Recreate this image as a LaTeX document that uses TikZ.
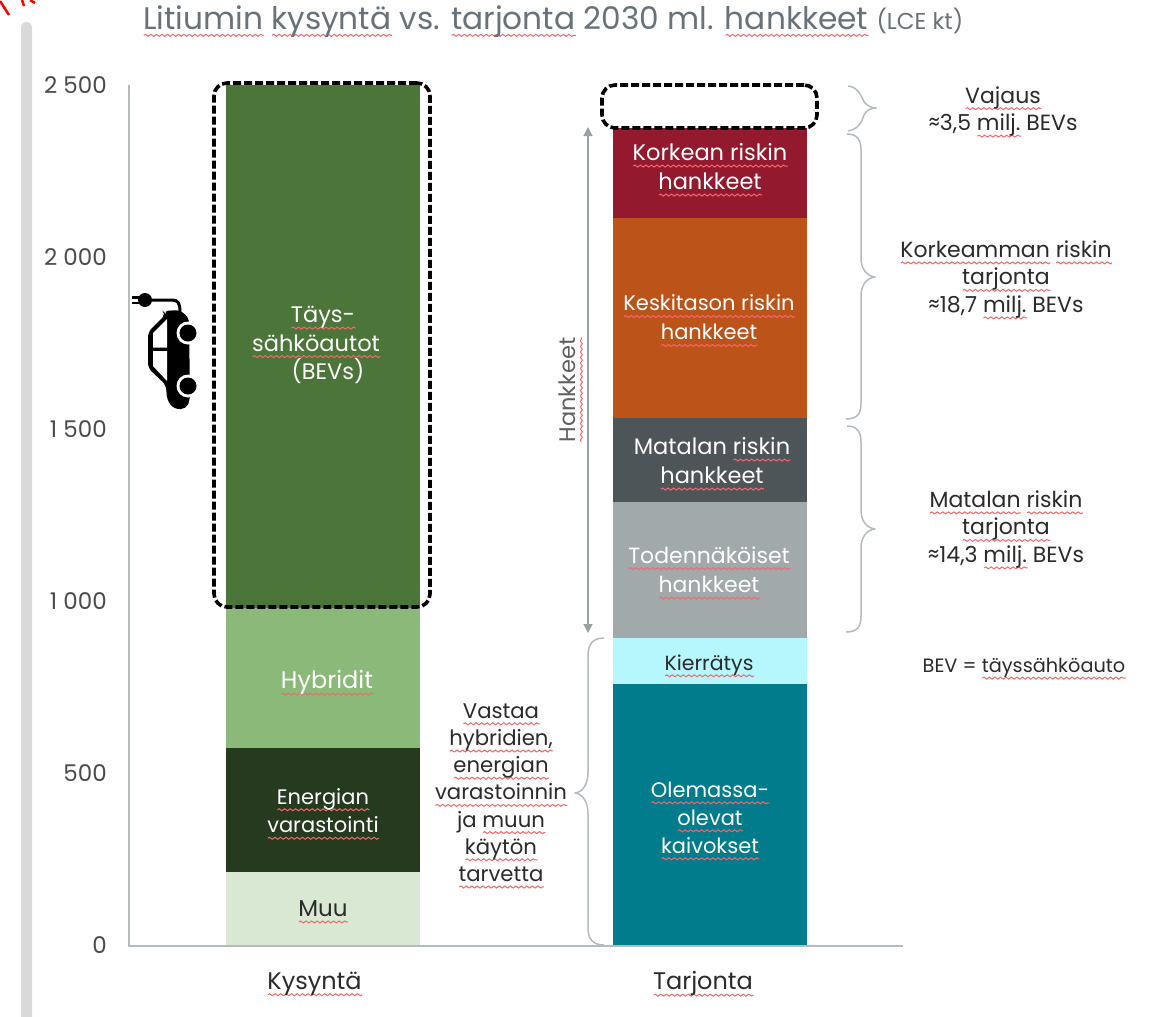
\documentclass[tikz,border=0pt]{standalone}
\usepackage{fontspec}
\setmainfont{Poppins}
\usetikzlibrary{decorations.pathmorphing,arrows.meta}
\newsavebox\sqb
\newcommand\sq[1]{\sbox\sqb{#1}\leavevmode\rlap{\tikz[baseline=0pt,x=1pt,y=1pt]\draw[draw=sqred,line width=1pt,decorate,decoration={snake,segment length=5.5pt,amplitude=1pt}] (0,-5.5) -- (\wd\sqb,-5.5);}\usebox\sqb}
\newcommand\fs[2]{\fontsize{#1}{#2}\selectfont}
\definecolor{sqred}{HTML}{F2686B}
\definecolor{axisc}{HTML}{B4BCC0}
\definecolor{txt}{HTML}{2B2B2B}
\definecolor{cBev}{HTML}{4C7639}
\definecolor{cHyb}{HTML}{8BB97A}
\definecolor{cEne}{HTML}{263A1F}
\definecolor{cMuu}{HTML}{D8E8D3}
\definecolor{cKor}{HTML}{931A2E}
\definecolor{cKes}{HTML}{BC5318}
\definecolor{cMat}{HTML}{4E5558}
\definecolor{cTod}{HTML}{A2A9AB}
\definecolor{cKie}{HTML}{B5F7FD}
\definecolor{cOle}{HTML}{007C8C}
\tikzset{
 bar/.style={draw=none,inner sep=0pt,minimum width=194pt,anchor=center},
 lbl/.style={align=center,font=\fs{22}{28.5},text=txt,inner sep=0pt},
 wlbl/.style={lbl,text=white},
 tick/.style={anchor=east,font=\fs{23}{24},text=txt!85,inner sep=0pt},
 side/.style={lbl,font=\fs{22}{27.5}},
 axisline/.style={draw=axisc,line width=1.3pt},
 brace/.style={draw=axisc,line width=1.5pt,line join=round},
 dashbox/.style={draw=black,line width=3.6pt,dash pattern=on 8pt off 3pt,rounded corners=13pt},
}
\begin{document}
\begin{tikzpicture}[x=1pt,y=-1pt]
\useasboundingbox (0,0) rectangle (1151,1017);
\fill[white] (0,0) rectangle (1151,1017);
% page edge marks
\draw[red,line width=2.5pt] (9,15) -- (0,1);
\draw[red,line width=2.5pt] (24,6) -- (22,0);
\draw[red,line width=2.5pt] (35,3) -- (30,0);
\fill[fill=black!15!white,rounded corners=5pt] (21,22) rectangle (32,1030);
% bars
\node[bar,fill=cBev,minimum height=523pt] (bev) at (323,346.5) {};
\node[bar,fill=cHyb,minimum height=140pt] (hyb) at (323,678) {};
\node[bar,fill=cEne,minimum height=124pt] (ene) at (323,810) {};
\node[bar,fill=cMuu,minimum height=74pt] (muu) at (323,909) {};
\node[bar,fill=cKor,minimum height=90pt] (kor) at (709.5,173) {};
\node[bar,fill=cKes,minimum height=200pt] (kes) at (709.5,318) {};
\node[bar,fill=cMat,minimum height=84pt] (mat) at (709.5,460) {};
\node[bar,fill=cTod,minimum height=136pt] (tod) at (709.5,570) {};
\node[bar,fill=cKie,minimum height=46pt] (kie) at (709.5,661) {};
\node[bar,fill=cOle,minimum height=262pt] (ole) at (709.5,815) {};
% axes
\coordinate (o) at (129,946);
\coordinate (ytop) at (129,85);
\coordinate (xend) at (903,946);
\draw[axisline] (ytop) -- (o) -- (xend);
\node[tick] (t0) at (107,945) {0};
\node[tick] (t1) at (107,773) {500};
\node[tick] (t2) at (107,601) {1 000};
\node[tick] (t3) at (107,429) {1 500};
\node[tick] (t4) at (107,257) {2 000};
\node[tick] (t5) at (107,85) {2 500};
% title
\node[anchor=west,inner sep=0pt,text={rgb,255:red,104;green,114;blue,120},font=\fs{31.2}{36}] (title) at (143,22) {\sq{Litiumin} \sq{kysyntä} vs. \sq{tarjonta} 2030 ml. \sq{hankkeet} {\fs{23}{24}(LCE kt)}};
% dashed
\node[dashbox,minimum width=216pt,minimum height=524pt,inner sep=0pt] (d1) at (322,345) {};
\node[dashbox,minimum width=215pt,minimum height=43pt,inner sep=0pt] (d2) at (709.5,106.5) {};
% labels
\node[wlbl,font=\fs{22.5}{28.5}] (l1) at (316,345) {\hspace*{14pt}\sq{Täys-}\\\sq{sähköautot}\\\hspace*{24pt}(BEVs)};
\node[wlbl,font=\fs{24}{28}] (l2) at (327,683) {\sq{Hybridit}};
\node[wlbl,font=\fs{21}{28.5}] (l3) at (323,814) {\sq{Energian}\\\sq{varastointi}};
\node[lbl,font=\fs{23}{28}] (l4) at (323,912) {\sq{Muu}};
\node[wlbl,font=\fs{22.5}{29}] (l5) at (710,170) {\sq{Korkean riskin}\\\sq{hankkeet}};
\node[wlbl,font=\fs{21}{29}] (l6) at (709,321) {\sq{Keskitason riskin}\\\sq{hankkeet}};
\node[wlbl,font=\fs{22.5}{29}] (l7) at (712,464) {Matalan \sq{riskin}\\\sq{hankkeet}};
\node[wlbl,font=\fs{22}{29.5}] (l8) at (709,573) {\sq{Todennäköiset}\\\sq{hankkeet}};
\node[lbl,font=\fs{20.5}{28}] (l9) at (709,666) {\sq{Kierrätys}};
\node[wlbl,font=\fs{21}{28}] (l10) at (710,821) {\sq{Olemassa-}\\\sq{olevat}\\\sq{kaivokset}};
\node[lbl,font=\fs{24}{28}] (kys) at (314.5,984) {\sq{Kysyntä}};
\node[lbl,font=\fs{24}{28}] (tar) at (703,984) {\sq{Tarjonta}};
\node[lbl,font=\fs{21.2}{27.2}] (vas) at (501,796) {\sq{Vastaa}\\\sq{hybridien,}\\\sq{energian}\\\sq{varastoinnin}\\ja \sq{muun}\\\sq{käytön}\\\sq{tarvetta}};
\node[side] (vaj) at (1003,112) {\sq{Vajaus}\\≈3,5 \sq{milj.} BEVs};
\node[side] (kt) at (1006,280) {\sq{Korkeamman} \sq{riskin}\\\sq{tarjonta}\\≈18,7 \sq{milj.} BEVs};
\node[side] (mt) at (1006,530) {\sq{Matalan} \sq{riskin}\\\sq{tarjonta}\\≈14,3 \sq{milj.} BEVs};
\node[lbl,font=\fs{19.3}{22}] (bevn) at (1024,669) {BEV = \sq{täyssähköauto}};
\node[lbl,rotate=90,text=txt!75,font=\fs{22.5}{24}] (han) at (571,390) {\sq{Hankkeet}};
% arrow
\coordinate (a1) at (588,127);
\coordinate (a2) at (588,633);
\draw[draw=axisc!85!black,line width=1.2pt,{Triangle[length=9pt,width=9pt]}-{Triangle[length=9pt,width=9pt]}] (a1) -- (a2);
% braces
\draw[brace] (848,86) .. controls (860,87) and (862,100) .. (865,103) .. controls (868,106) and (872,108) .. (876,108) .. controls (870,108) and (866,111) .. (864,115) .. controls (862,120) and (860,129) .. (848,131);
\draw[brace] (847,134) .. controls (858,134) and (861,141) .. (861,150) -- (861,258) .. controls (861,268) and (866,276) .. (875,277) .. controls (866,278) and (861,286) .. (861,296) -- (861,403) .. controls (861,413) and (858,419) .. (846,419);
\draw[brace] (847,426) .. controls (858,426) and (861,433) .. (861,442) -- (861,510) .. controls (861,520) and (866,528) .. (875,529) .. controls (866,530) and (861,538) .. (861,548) -- (861,616) .. controls (861,626) and (858,632) .. (846,632);
\draw[brace] (604,638) .. controls (592,638) and (588,645) .. (588,656) -- (588,772) .. controls (588,784) and (583,792) .. (575,793) .. controls (583,794) and (588,802) .. (588,814) -- (588,928) .. controls (588,938) and (592,945) .. (604,945);
% car icon
\draw[black,line width=3pt] (148,300) -- (172,300) .. controls (178,300) and (180,303) .. (180,312);
\draw[black,line width=2.2pt] (132,297.5) -- (141,297.5) (132,303) -- (141,303);
\fill[black] (145,300) circle (7pt);
\fill[black,rounded corners=5pt] (163,311) -- (180,310) -- (189,318) -- (190,400) -- (186,409) -- (174,409) -- (167,400) -- (166,385) -- (148,368) -- (148,332) -- (166,314) -- cycle;
\fill[white] (167,319) -- (153,333) -- (153,347.5) -- (167,347.5) -- cycle;
\fill[white] (167,351) -- (153,351) -- (153,366) -- (167,381) -- cycle;
\fill[white] (188,333) circle (11.5pt);
\fill[white] (188,386) circle (11.5pt);
\fill[black] (188,333) circle (8.5pt);
\fill[black] (188,386) circle (8.5pt);
\end{tikzpicture}
\end{document}
